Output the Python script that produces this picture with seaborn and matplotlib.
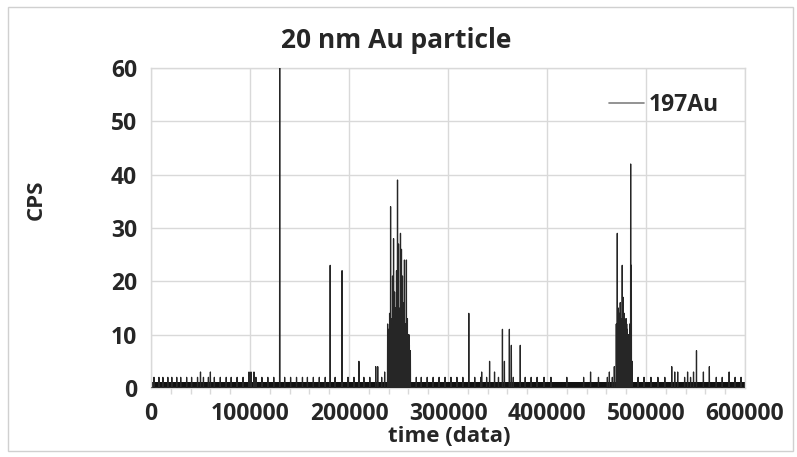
import matplotlib
matplotlib.use("Agg")
import matplotlib.pyplot as plt
import seaborn as sns
import numpy as np
import pandas as pd
from matplotlib.patches import Rectangle
from matplotlib.ticker import MultipleLocator

# ---------------- data ----------------
title = "20 nm Au particle"
series_name = "197Au"
x_label = "time (data)"
y_label = "CPS"
x_ticks = [0, 100000, 200000, 300000, 400000, 500000, 600000]
y_ticks = [0, 10, 20, 30, 40, 50, 60]

# background level (dense 0/1 counts forming the black band)
background_cps = 1.1

# isolated small background events (~2-3 CPS)
small_x = [3000, 8000, 12000, 17000, 21000, 26000, 30000, 36000, 41000, 47000,
           50000, 53000, 58000, 60000, 64000, 70000, 76000, 81000, 87000, 93000,
           99000, 101000, 104000, 106000, 112000, 118000, 124000, 135000, 141000,
           147000, 153000, 158000, 164000, 170000, 176000, 186000, 199000, 205000,
           215000, 221000, 229000, 233000, 236000, 268000, 273000, 279000, 285000,
           291000, 297000, 303000, 309000, 315000, 327000, 333000, 339000, 347000,
           351000, 366000, 378000, 384000, 390000, 397000, 404000, 420000, 437000,
           452000, 461000, 466000, 492000, 498000, 505000, 512000, 519000, 532000,
           539000, 545000, 558000, 571000, 577000, 584000, 590000, 596000]
small_h = [2, 2, 2, 2, 2, 2, 2, 2, 2, 2,
           3, 2, 2, 3, 2, 2, 2, 2, 2, 2,
           3, 3, 3, 2, 2, 2, 2, 2, 2,
           2, 2, 2, 2, 2, 2, 2, 2, 2,
           2, 2, 4, 2, 3, 2, 2, 2, 2,
           2, 2, 2, 2, 2, 2, 2, 2, 3,
           2, 2, 2, 2, 2, 2, 2, 2, 2,
           2, 2, 2, 2, 2, 2, 2, 2, 3,
           2, 2, 3, 2, 2, 3, 2, 2]

# isolated particle events
spike_x = [130000, 181000, 193000, 210000, 227000, 321000, 334000, 342000, 355000,
           357000, 362000, 364000, 373000, 444000, 463000, 468000, 526000, 529000,
           551000, 564000, 548000, 542000]
spike_h = [60, 23, 22, 5, 4, 14, 3, 5, 11,
           5, 11, 8, 8, 3, 3, 4, 4, 3,
           7, 4, 3, 3]

# first particle cluster
cluster1_x = [239000, 240000, 241000, 242000, 243000, 244000, 245000, 246000, 247000,
              248000, 249000, 250000, 251000, 252000, 253000, 254000, 255000, 256000,
              257000, 258000, 259000, 260000, 261000, 262000,
              240500, 241500, 242500, 243500, 244500, 245500, 246500, 247500, 248500,
              249500, 250500, 251500, 252500, 253500, 254500, 255500, 256500, 257500,
              258500, 259500, 260500, 261500]
cluster1_h = [12, 11, 14, 34, 10, 21, 28, 18, 15,
              22, 39, 27, 13, 29, 26, 21, 16, 24, 12,
              24, 13, 10, 8, 7,
              10, 12, 13, 11, 16, 13, 12, 14, 12,
              11, 13, 15, 12, 13, 11, 12, 10, 11,
              12, 9, 10, 6]

# second particle cluster
cluster2_x = [470000, 471000, 472000, 473000, 474000, 475000, 476000, 477000, 478000,
              479000, 480000, 481000, 482000, 483000, 484500, 485200, 486000,
              470500, 471500, 472500, 473500, 474500, 475500, 476500, 477500, 478500,
              479500, 480500, 481500, 482500, 483500]
cluster2_h = [12, 29, 15, 12, 16, 13, 23, 17, 14,
              12, 13, 11, 10, 8, 42, 23, 5,
              11, 13, 12, 14, 12, 11, 12, 10, 13,
              11, 12, 9, 10, 12]

# ---------------- build trace ----------------
ev_x = np.array(small_x + spike_x + cluster1_x + cluster2_x, dtype=float)
ev_h = np.array(small_h + spike_h + cluster1_h + cluster2_h, dtype=float)
order = np.argsort(ev_x)
ev_x, ev_h = ev_x[order], ev_h[order]
tx, ty = [0.0], [0.0]
for xv, hv in zip(ev_x, ev_h):
    tx += [xv - 150, xv, xv + 150]
    ty += [0.0, hv, 0.0]
tx.append(600000.0)
ty.append(0.0)
df = pd.DataFrame({"time": tx, "cps": ty})

# ---------------- plot ----------------
sns.set_theme(style="white")
plt.rcParams["font.family"] = ["Open Sans", "DejaVu Sans"]
plt.rcParams["font.weight"] = "bold"

fig = plt.figure(figsize=(7.97, 4.57), dpi=100)
ax = fig.add_axes([151 / 797, 1 - 388 / 457, 594 / 797, 320 / 457])

grid_c = "#d9d9d9"
ax.fill_between([0, 600000], 0, background_cps, color="#111111", lw=0, zorder=2)
sns.lineplot(data=df, x="time", y="cps", estimator=None, sort=False, ax=ax,
             color="#262626", lw=0.9, label=series_name, zorder=3)

ax.set_xlim(0, 600000)
ax.set_ylim(0, 60)
ax.set_xticks(x_ticks)
ax.set_yticks(y_ticks)
ax.set_xticklabels([str(v) for v in x_ticks])
ax.set_yticklabels([str(v) for v in y_ticks])
ax.xaxis.set_minor_locator(MultipleLocator(20000))
ax.grid(True, which="major", color=grid_c, lw=1.0)
ax.set_axisbelow(True)
for s in ax.spines.values():
    s.set_color(grid_c)
    s.set_linewidth(1.0)
ax.tick_params(axis="y", length=0, pad=10, labelsize=16.5)
ax.tick_params(axis="x", which="major", length=4, color=grid_c, pad=6, labelsize=16.5)
ax.tick_params(axis="x", which="minor", length=4, color=grid_c, bottom=True)
for lab in ax.get_xticklabels() + ax.get_yticklabels():
    lab.set_fontweight("bold")

ax.set_xlabel("")
ax.set_ylabel("")
fig.text(449 / 797, 1 - 437 / 457, x_label, fontsize=16, fontweight="bold",
         ha="center", va="center")
fig.text(36 / 797, 1 - 200 / 457, y_label, fontsize=16, fontweight="bold",
         ha="center", va="center", rotation=90)
fig.text(396 / 797, 1 - 40 / 457, title, fontsize=19, fontweight="bold",
         ha="center", va="center")

leg = ax.legend(loc="upper right", bbox_to_anchor=(0.99, 0.985), frameon=False,
                fontsize=16.5, handlelength=1.5, handletextpad=0.2)
for t in leg.get_texts():
    t.set_fontweight("bold")
for ln in leg.get_lines():
    ln.set_color("#808080")
    ln.set_linewidth(1.2)

fig.patches.append(Rectangle((8 / 797, 1 - 451 / 457), 785 / 797, 444 / 457,
                             transform=fig.transFigure, fill=False,
                             edgecolor="#d0d0d0", lw=1.0))

fig.savefig("out.png", dpi=100)
